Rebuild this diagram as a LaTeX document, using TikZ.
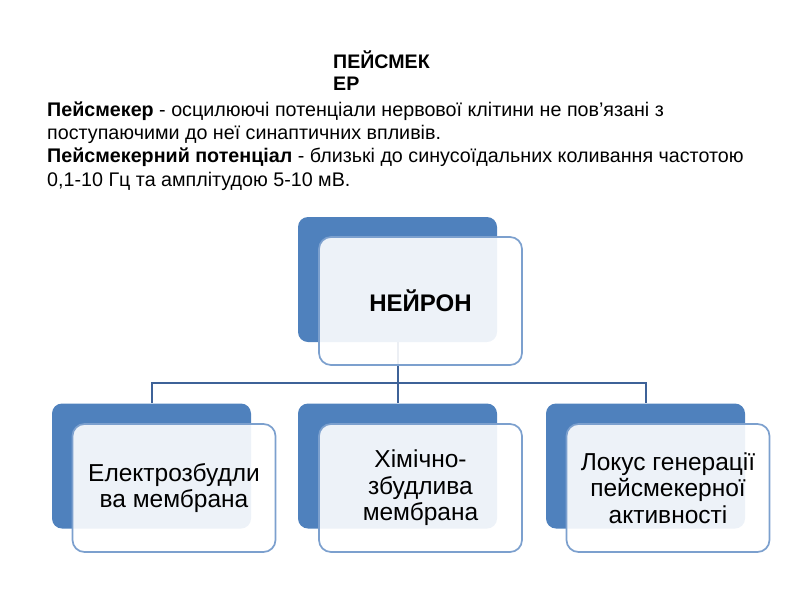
\documentclass[tikz,border=0pt]{standalone}
\usepackage{fontspec}
\setmainfont{Liberation Sans}
\definecolor{boxblue}{RGB}{79,129,189}
\definecolor{edgeblue}{RGB}{124,160,206}
\definecolor{linkblue}{RGB}{62,98,152}
\tikzset{
	backbox/.style={rectangle, rounded corners=10pt, fill=boxblue, minimum width=199pt, minimum height=125pt, inner sep=0pt},
	frontbox/.style={rectangle, rounded corners=12pt, draw=edgeblue, line width=1.7pt, fill=white, fill opacity=0.9, text opacity=1, minimum width=203pt, minimum height=128pt, inner sep=0pt, align=center, font=\fontsize{24.5}{26.5}\selectfont},
	link/.style={draw=linkblue, line width=2pt}
}

\begin{document}
\begin{tikzpicture}[x=1pt, y=-1pt]
		\useasboundingbox (0,0) rectangle (800,600);
		
		\node[anchor=north west, inner sep=0pt, align=left, font=\bfseries\fontsize{19.6}{22}\selectfont] (title) at (333,51) {ПЕЙСМЕК\\ЕР};
		\node[anchor=north west, inner sep=0pt, align=left, font=\fontsize{19.7}{23.3}\selectfont] (definition) at (47,101.5) {\textbf{Пейсмекер} - осцилюючі потенціали нервової клітини не пов’язані з\\поступаючими до неї синаптичних впливів.\\\textbf{Пейсмекерний потенціал} - близькі до синусоїдальних коливання частотою\\0,1-10 Гц та амплітудою 5-10 мВ.};
		
		\node[backbox] (neuronback) at (397.5,279.5) {};
		\node[backbox] (electroback) at (151.5,466) {};
		\node[backbox] (chemback) at (397.5,466) {};
		\node[backbox] (locusback) at (645.5,466) {};
		
		\draw[link] (neuronback.south) -- ++(0,41) coordinate (fork);
		\draw[link] (fork) -| (electroback.north);
		\draw[link] (fork) -| (locusback.north);
		\draw[link] (fork) -- (chemback.north);
		
		\node[frontbox, font=\bfseries\fontsize{24}{28}\selectfont] (neuron) at (420.5,301) {НЕЙРОН};
		\node[frontbox] (electro) at (174,488) {Електрозбудли\\ва мембрана};
		\node[frontbox] (chem) at (420.5,488) {Хімічно-\\збудлива\\мембрана};
		\node[frontbox] (locus) at (668,488) {Локус генерації\\пейсмекерної\\активності};
	\end{tikzpicture}
\end{document}
